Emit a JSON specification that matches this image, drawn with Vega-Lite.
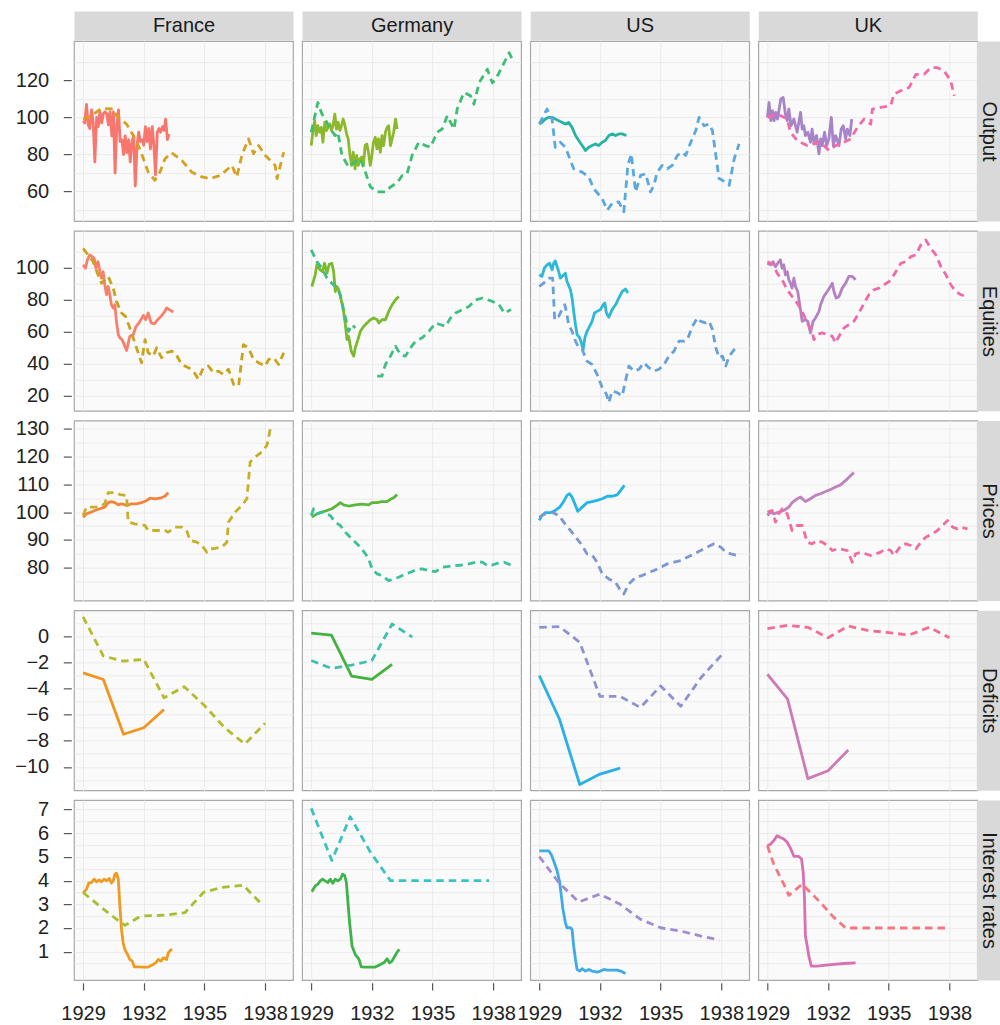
{
"$schema": "https://vega.github.io/schema/vega-lite/v6.json",
"padding": {"left": 0, "top": 14.1, "right": 2, "bottom": 0},
"config": {
  "font": "Liberation Sans",
  "view": {"fill": "#fafafa", "stroke": "#a8a8a8", "strokeWidth": 1.2},
  "axis": {"labelFontSize": 20, "labelColor": "#222222", "tickColor": "#555555", "tickWidth": 1.2, "gridColor": "#ebebeb", "gridWidth": 1, "labelFont": "Liberation Sans", "titleFont": "Liberation Sans"},
  "line": {"strokeWidth": 2.8, "strokeJoin": "round"}
},
"datasets": {
"France_Output_1": [{"year":1929.00,"value":98},{"year":1929.08,"value":97},{"year":1929.17,"value":107},{"year":1929.25,"value":96},{"year":1929.33,"value":94},{"year":1929.42,"value":104},{"year":1929.50,"value":97},{"year":1929.58,"value":76},{"year":1929.67,"value":100},{"year":1929.75,"value":95},{"year":1929.83,"value":103},{"year":1929.92,"value":97},{"year":1930.00,"value":102},{"year":1930.08,"value":103},{"year":1930.17,"value":102},{"year":1930.25,"value":96},{"year":1930.33,"value":103},{"year":1930.42,"value":90},{"year":1930.50,"value":103},{"year":1930.58,"value":70},{"year":1930.67,"value":96},{"year":1930.75,"value":104},{"year":1930.83,"value":87},{"year":1930.92,"value":88},{"year":1931.00,"value":80},{"year":1931.08,"value":90},{"year":1931.17,"value":81},{"year":1931.25,"value":88},{"year":1931.33,"value":76},{"year":1931.42,"value":87},{"year":1931.50,"value":90},{"year":1931.58,"value":63},{"year":1931.67,"value":85},{"year":1931.75,"value":92},{"year":1931.83,"value":87},{"year":1931.92,"value":88},{"year":1932.00,"value":85},{"year":1932.08,"value":95},{"year":1932.17,"value":87},{"year":1932.25,"value":94},{"year":1932.33,"value":83},{"year":1932.42,"value":95},{"year":1932.50,"value":85},{"year":1932.58,"value":69},{"year":1932.67,"value":92},{"year":1932.75,"value":94},{"year":1932.83,"value":92},{"year":1932.92,"value":95},{"year":1933.00,"value":93},{"year":1933.08,"value":99},{"year":1933.17,"value":88},{"year":1933.25,"value":91}],
"France_Output_2": [{"year":1929.00,"value":99.1},{"year":1929.41,"value":100.9},{"year":1929.91,"value":104.8},{"year":1930.49,"value":104.5},{"year":1930.65,"value":100.9},{"year":1931.15,"value":96.4},{"year":1931.48,"value":90.2},{"year":1931.73,"value":84.8},{"year":1931.98,"value":77.7},{"year":1932.22,"value":70.5},{"year":1932.55,"value":66.1},{"year":1932.80,"value":70.5},{"year":1933.05,"value":77.7},{"year":1933.38,"value":80.9},{"year":1933.88,"value":76.8},{"year":1934.37,"value":70.5},{"year":1934.87,"value":67.9},{"year":1935.28,"value":67.0},{"year":1935.78,"value":68.7},{"year":1936.36,"value":74.1},{"year":1936.60,"value":67.9},{"year":1936.85,"value":79.5},{"year":1937.18,"value":88.4},{"year":1937.43,"value":80.4},{"year":1937.68,"value":84.8},{"year":1938.01,"value":79.5},{"year":1938.26,"value":76.8},{"year":1938.50,"value":74.1},{"year":1938.59,"value":67.0},{"year":1938.92,"value":81.2}],
"Germany_Output_1": [{"year":1929.00,"value":84.8},{"year":1929.08,"value":92.0},{"year":1929.17,"value":98.2},{"year":1929.25,"value":90.2},{"year":1929.33,"value":95.5},{"year":1929.42,"value":92.0},{"year":1929.50,"value":94.6},{"year":1929.58,"value":86.6},{"year":1929.67,"value":97.3},{"year":1929.75,"value":92.9},{"year":1929.83,"value":94.6},{"year":1929.92,"value":96.4},{"year":1930.00,"value":92.9},{"year":1930.08,"value":95.5},{"year":1930.17,"value":101.8},{"year":1930.25,"value":93.7},{"year":1930.33,"value":97.3},{"year":1930.42,"value":92.9},{"year":1930.50,"value":95.5},{"year":1930.58,"value":99.1},{"year":1930.67,"value":95.5},{"year":1930.75,"value":91.1},{"year":1930.83,"value":88.4},{"year":1930.92,"value":79.5},{"year":1931.00,"value":74.1},{"year":1931.08,"value":81.2},{"year":1931.17,"value":72.3},{"year":1931.25,"value":79.5},{"year":1931.33,"value":74.1},{"year":1931.42,"value":77.7},{"year":1931.50,"value":78.6},{"year":1931.58,"value":74.1},{"year":1931.67,"value":84.8},{"year":1931.75,"value":85.7},{"year":1931.83,"value":81.2},{"year":1931.92,"value":74.1},{"year":1932.00,"value":79.5},{"year":1932.08,"value":86.6},{"year":1932.17,"value":89.3},{"year":1932.25,"value":83.0},{"year":1932.33,"value":88.4},{"year":1932.42,"value":81.2},{"year":1932.50,"value":90.2},{"year":1932.58,"value":84.8},{"year":1932.67,"value":92.0},{"year":1932.75,"value":94.6},{"year":1932.83,"value":95.5},{"year":1932.92,"value":84.8},{"year":1933.00,"value":88.4},{"year":1933.08,"value":92.0},{"year":1933.17,"value":99.1},{"year":1933.25,"value":93.7}],
"Germany_Output_2": [{"year":1929.00,"value":92.0},{"year":1929.33,"value":108.0},{"year":1929.53,"value":101.8},{"year":1929.69,"value":99.1},{"year":1929.94,"value":93.7},{"year":1930.19,"value":90.2},{"year":1930.32,"value":92.0},{"year":1930.52,"value":79.5},{"year":1930.85,"value":73.2},{"year":1931.15,"value":75.9},{"year":1931.43,"value":77.7},{"year":1931.68,"value":70.5},{"year":1931.93,"value":62.5},{"year":1932.26,"value":59.8},{"year":1932.67,"value":59.8},{"year":1932.92,"value":62.5},{"year":1933.25,"value":64.8},{"year":1933.50,"value":68.7},{"year":1933.74,"value":69.6},{"year":1933.99,"value":79.5},{"year":1934.32,"value":86.6},{"year":1934.65,"value":84.8},{"year":1934.90,"value":83.9},{"year":1935.23,"value":92.0},{"year":1935.48,"value":93.7},{"year":1935.73,"value":100.9},{"year":1936.06,"value":93.7},{"year":1936.22,"value":104.5},{"year":1936.55,"value":113.4},{"year":1936.88,"value":111.6},{"year":1937.05,"value":107.1},{"year":1937.30,"value":118.6},{"year":1937.71,"value":125.9},{"year":1937.96,"value":118.6},{"year":1938.12,"value":120.4},{"year":1938.45,"value":127.5},{"year":1938.79,"value":134.8},{"year":1938.95,"value":131.2}],
"US_Output_1": [{"year":1929.00,"value":96.4},{"year":1929.13,"value":97.3},{"year":1929.30,"value":99.1},{"year":1929.46,"value":100.0},{"year":1929.63,"value":100.0},{"year":1929.79,"value":99.1},{"year":1929.96,"value":98.2},{"year":1930.12,"value":97.3},{"year":1930.29,"value":96.4},{"year":1930.45,"value":97.3},{"year":1930.62,"value":94.6},{"year":1930.79,"value":90.2},{"year":1930.95,"value":87.5},{"year":1931.12,"value":84.8},{"year":1931.28,"value":82.1},{"year":1931.45,"value":83.9},{"year":1931.61,"value":84.8},{"year":1931.78,"value":85.7},{"year":1931.94,"value":84.8},{"year":1932.11,"value":86.6},{"year":1932.27,"value":87.5},{"year":1932.44,"value":90.2},{"year":1932.60,"value":91.1},{"year":1932.77,"value":90.2},{"year":1932.93,"value":91.1},{"year":1933.10,"value":91.1},{"year":1933.31,"value":90.2}],
"US_Output_2": [{"year":1929.00,"value":96.4},{"year":1929.38,"value":104.5},{"year":1929.63,"value":99.1},{"year":1929.79,"value":83.9},{"year":1930.04,"value":86.6},{"year":1930.29,"value":83.9},{"year":1930.70,"value":72.3},{"year":1931.12,"value":70.5},{"year":1931.45,"value":67.9},{"year":1931.69,"value":61.6},{"year":1932.11,"value":56.2},{"year":1932.36,"value":50.0},{"year":1932.60,"value":53.6},{"year":1932.93,"value":54.5},{"year":1933.18,"value":49.1},{"year":1933.38,"value":74.1},{"year":1933.55,"value":80.4},{"year":1933.76,"value":59.8},{"year":1934.01,"value":68.7},{"year":1934.26,"value":69.6},{"year":1934.50,"value":59.8},{"year":1934.67,"value":63.4},{"year":1934.83,"value":70.5},{"year":1935.08,"value":74.1},{"year":1935.33,"value":72.3},{"year":1935.58,"value":74.1},{"year":1935.83,"value":79.5},{"year":1936.07,"value":81.2},{"year":1936.24,"value":79.5},{"year":1936.49,"value":86.6},{"year":1936.74,"value":92.9},{"year":1936.90,"value":100.0},{"year":1937.15,"value":95.5},{"year":1937.40,"value":96.4},{"year":1937.56,"value":92.9},{"year":1937.73,"value":79.5},{"year":1937.89,"value":67.0},{"year":1938.06,"value":66.1},{"year":1938.39,"value":63.4},{"year":1938.64,"value":77.7},{"year":1938.88,"value":85.7}],
"UK_Output_1": [{"year":1929.00,"value":100.0},{"year":1929.08,"value":108.0},{"year":1929.17,"value":98.2},{"year":1929.25,"value":103.6},{"year":1929.33,"value":98.2},{"year":1929.41,"value":102.7},{"year":1929.50,"value":99.1},{"year":1929.66,"value":109.8},{"year":1929.78,"value":110.7},{"year":1929.89,"value":101.8},{"year":1929.98,"value":98.2},{"year":1930.06,"value":104.5},{"year":1930.17,"value":95.5},{"year":1930.31,"value":99.1},{"year":1930.47,"value":92.0},{"year":1930.64,"value":102.7},{"year":1930.72,"value":93.7},{"year":1930.80,"value":95.5},{"year":1930.88,"value":90.2},{"year":1931.00,"value":92.0},{"year":1931.13,"value":86.6},{"year":1931.21,"value":93.7},{"year":1931.30,"value":86.6},{"year":1931.43,"value":90.2},{"year":1931.55,"value":80.4},{"year":1931.63,"value":88.4},{"year":1931.71,"value":84.8},{"year":1931.83,"value":92.0},{"year":1931.93,"value":84.8},{"year":1932.04,"value":88.4},{"year":1932.16,"value":100.0},{"year":1932.26,"value":84.8},{"year":1932.37,"value":90.2},{"year":1932.54,"value":84.8},{"year":1932.65,"value":93.7},{"year":1932.75,"value":95.5},{"year":1932.87,"value":88.4},{"year":1932.95,"value":93.7},{"year":1933.08,"value":90.2},{"year":1933.17,"value":99.1}],
"UK_Output_2": [{"year":1929.00,"value":100.0},{"year":1929.48,"value":101.8},{"year":1929.98,"value":99.1},{"year":1930.14,"value":92.0},{"year":1930.47,"value":87.5},{"year":1930.97,"value":84.8},{"year":1931.30,"value":85.7},{"year":1931.63,"value":86.6},{"year":1932.04,"value":82.1},{"year":1932.37,"value":84.8},{"year":1932.62,"value":85.7},{"year":1933.12,"value":88.4},{"year":1933.45,"value":94.6},{"year":1933.78,"value":99.1},{"year":1934.11,"value":96.4},{"year":1934.19,"value":104.5},{"year":1934.60,"value":105.4},{"year":1935.10,"value":106.3},{"year":1935.26,"value":112.5},{"year":1935.76,"value":115.2},{"year":1936.01,"value":116.1},{"year":1936.34,"value":123.2},{"year":1936.75,"value":123.2},{"year":1937.08,"value":126.8},{"year":1937.41,"value":126.8},{"year":1937.74,"value":125.0},{"year":1938.07,"value":119.6},{"year":1938.24,"value":111.6}],
"France_Equities_1": [{"year":1929.00,"value":101.7},{"year":1929.12,"value":99.6},{"year":1929.21,"value":104.8},{"year":1929.33,"value":107.9},{"year":1929.45,"value":106.8},{"year":1929.55,"value":105.8},{"year":1929.63,"value":99.6},{"year":1929.74,"value":103.7},{"year":1929.83,"value":97.5},{"year":1929.91,"value":93.4},{"year":1929.99,"value":97.5},{"year":1930.07,"value":89.3},{"year":1930.16,"value":83.1},{"year":1930.24,"value":88.2},{"year":1930.32,"value":83.1},{"year":1930.40,"value":76.8},{"year":1930.49,"value":74.8},{"year":1930.57,"value":76.8},{"year":1930.65,"value":66.5},{"year":1930.74,"value":58.2},{"year":1930.82,"value":56.2},{"year":1930.93,"value":55.1},{"year":1931.15,"value":48.3},{"year":1931.31,"value":57.2},{"year":1931.48,"value":58.2},{"year":1931.60,"value":62.8},{"year":1931.81,"value":66.5},{"year":1931.98,"value":70.2},{"year":1932.09,"value":67.5},{"year":1932.22,"value":71.7},{"year":1932.36,"value":65.5},{"year":1932.52,"value":64.9},{"year":1932.69,"value":67.5},{"year":1932.85,"value":69.6},{"year":1933.02,"value":72.3},{"year":1933.13,"value":74.8},{"year":1933.30,"value":73.5},{"year":1933.46,"value":72.3}],
"France_Equities_2": [{"year":1929.00,"value":112.0},{"year":1929.25,"value":107.9},{"year":1929.50,"value":103.7},{"year":1929.74,"value":95.5},{"year":1929.91,"value":90.3},{"year":1930.24,"value":94.5},{"year":1930.49,"value":87.2},{"year":1930.65,"value":78.9},{"year":1930.90,"value":71.7},{"year":1931.10,"value":69.6},{"year":1931.31,"value":62.4},{"year":1931.48,"value":56.2},{"year":1931.64,"value":50.0},{"year":1931.89,"value":40.7},{"year":1932.06,"value":55.1},{"year":1932.22,"value":46.9},{"year":1932.47,"value":44.8},{"year":1932.64,"value":50.0},{"year":1932.88,"value":43.8},{"year":1933.13,"value":46.9},{"year":1933.38,"value":47.9},{"year":1933.55,"value":46.9},{"year":1933.88,"value":39.6},{"year":1934.21,"value":37.6},{"year":1934.45,"value":35.5},{"year":1934.70,"value":30.4},{"year":1934.95,"value":37.6},{"year":1935.20,"value":38.6},{"year":1935.45,"value":34.5},{"year":1935.69,"value":35.5},{"year":1935.94,"value":33.4},{"year":1936.19,"value":36.6},{"year":1936.44,"value":27.2},{"year":1936.69,"value":26.2},{"year":1936.93,"value":52.0},{"year":1937.18,"value":49.9},{"year":1937.43,"value":42.7},{"year":1937.68,"value":40.7},{"year":1938.01,"value":38.6},{"year":1938.17,"value":42.7},{"year":1938.42,"value":43.8},{"year":1938.67,"value":39.6},{"year":1938.92,"value":46.9}],
"Germany_Equities_1": [{"year":1929.03,"value":88.2},{"year":1929.20,"value":95.5},{"year":1929.28,"value":101.7},{"year":1929.45,"value":98.6},{"year":1929.56,"value":97.5},{"year":1929.66,"value":102.7},{"year":1929.78,"value":96.5},{"year":1929.89,"value":102.1},{"year":1930.02,"value":102.7},{"year":1930.11,"value":97.5},{"year":1930.19,"value":85.1},{"year":1930.27,"value":88.2},{"year":1930.36,"value":86.1},{"year":1930.44,"value":82.0},{"year":1930.52,"value":77.9},{"year":1930.60,"value":72.7},{"year":1930.69,"value":64.4},{"year":1930.77,"value":55.1},{"year":1930.85,"value":57.2},{"year":1930.98,"value":47.9},{"year":1931.10,"value":44.8},{"year":1931.18,"value":50.0},{"year":1931.31,"value":55.1},{"year":1931.43,"value":60.3},{"year":1931.60,"value":63.4},{"year":1931.76,"value":65.5},{"year":1931.93,"value":67.5},{"year":1932.09,"value":68.6},{"year":1932.26,"value":67.5},{"year":1932.34,"value":65.5},{"year":1932.50,"value":67.5},{"year":1932.67,"value":67.5},{"year":1932.83,"value":72.7},{"year":1933.00,"value":76.8},{"year":1933.17,"value":79.9},{"year":1933.33,"value":82.0}],
"Germany_Equities_2": [{"year":1929.00,"value":111.0,"seg":"a"},{"year":1929.28,"value":103.7,"seg":"a"},{"year":1929.53,"value":99.6,"seg":"a"},{"year":1929.78,"value":93.4,"seg":"a"},{"year":1930.02,"value":90.3,"seg":"a"},{"year":1930.27,"value":87.2,"seg":"a"},{"year":1930.44,"value":83.1,"seg":"a"},{"year":1930.60,"value":73.8,"seg":"a"},{"year":1930.85,"value":60.3,"seg":"a"},{"year":1931.02,"value":64.4,"seg":"a"},{"year":1931.18,"value":62.4,"seg":"a"},{"year":1932.26,"value":32.4,"seg":"b"},{"year":1932.50,"value":32.4,"seg":"b"},{"year":1932.67,"value":39.6,"seg":"b"},{"year":1932.92,"value":44.8,"seg":"b"},{"year":1933.17,"value":51.0,"seg":"b"},{"year":1933.41,"value":45.8,"seg":"b"},{"year":1933.66,"value":44.8,"seg":"b"},{"year":1933.91,"value":50.0,"seg":"b"},{"year":1934.16,"value":54.1,"seg":"b"},{"year":1934.49,"value":56.2,"seg":"b"},{"year":1934.82,"value":60.3,"seg":"b"},{"year":1935.15,"value":65.5,"seg":"b"},{"year":1935.40,"value":64.4,"seg":"b"},{"year":1935.64,"value":63.4,"seg":"b"},{"year":1935.89,"value":68.6,"seg":"b"},{"year":1936.14,"value":71.7,"seg":"b"},{"year":1936.47,"value":73.8,"seg":"b"},{"year":1936.80,"value":75.8,"seg":"b"},{"year":1937.13,"value":79.9,"seg":"b"},{"year":1937.46,"value":81.0,"seg":"b"},{"year":1937.71,"value":80.0,"seg":"b"},{"year":1937.96,"value":78.9,"seg":"b"},{"year":1938.29,"value":76.8,"seg":"b"},{"year":1938.55,"value":71.7,"seg":"b"},{"year":1938.88,"value":73.8,"seg":"b"}],
"US_Equities_1": [{"year":1929.00,"value":95.5},{"year":1929.13,"value":94.5},{"year":1929.25,"value":99.6},{"year":1929.38,"value":101.7},{"year":1929.51,"value":102.7},{"year":1929.63,"value":98.6},{"year":1929.71,"value":102.7},{"year":1929.79,"value":104.1},{"year":1929.88,"value":100.6},{"year":1929.96,"value":97.5},{"year":1930.04,"value":93.4},{"year":1930.21,"value":95.5},{"year":1930.29,"value":96.5},{"year":1930.37,"value":91.3},{"year":1930.54,"value":86.2},{"year":1930.62,"value":81.0},{"year":1930.70,"value":72.7},{"year":1930.79,"value":64.4},{"year":1930.87,"value":58.2},{"year":1931.00,"value":56.2},{"year":1931.08,"value":53.1},{"year":1931.17,"value":48.9},{"year":1931.25,"value":56.2},{"year":1931.36,"value":60.3},{"year":1931.53,"value":64.4},{"year":1931.61,"value":66.5},{"year":1931.73,"value":71.7},{"year":1931.86,"value":72.7},{"year":1932.02,"value":73.8},{"year":1932.16,"value":76.8},{"year":1932.24,"value":77.9},{"year":1932.32,"value":71.7},{"year":1932.44,"value":69.0},{"year":1932.60,"value":73.8},{"year":1932.77,"value":76.8},{"year":1932.93,"value":81.0},{"year":1933.10,"value":85.1},{"year":1933.26,"value":86.6},{"year":1933.38,"value":84.1}],
"US_Equities_2": [{"year":1929.00,"value":88.2},{"year":1929.21,"value":90.3},{"year":1929.46,"value":93.4},{"year":1929.66,"value":93.4},{"year":1929.76,"value":67.5},{"year":1929.96,"value":69.6},{"year":1930.12,"value":73.8},{"year":1930.26,"value":76.8},{"year":1930.34,"value":72.7},{"year":1930.45,"value":64.4},{"year":1930.62,"value":60.3},{"year":1930.79,"value":54.1},{"year":1930.95,"value":50.0},{"year":1931.12,"value":48.9},{"year":1931.36,"value":41.7},{"year":1931.61,"value":39.6},{"year":1931.86,"value":33.4},{"year":1932.11,"value":25.2},{"year":1932.32,"value":21.0},{"year":1932.44,"value":15.9},{"year":1932.60,"value":23.1},{"year":1932.85,"value":22.1},{"year":1933.10,"value":20.0},{"year":1933.26,"value":29.3},{"year":1933.43,"value":38.6},{"year":1933.68,"value":35.5},{"year":1933.93,"value":36.6},{"year":1934.17,"value":40.7},{"year":1934.42,"value":37.6},{"year":1934.67,"value":35.5},{"year":1934.92,"value":36.6},{"year":1935.17,"value":39.6},{"year":1935.41,"value":44.8},{"year":1935.66,"value":47.9},{"year":1935.91,"value":54.1},{"year":1936.16,"value":54.1},{"year":1936.32,"value":55.1},{"year":1936.57,"value":63.4},{"year":1936.82,"value":68.6},{"year":1936.98,"value":66.5},{"year":1937.23,"value":65.5},{"year":1937.40,"value":66.5},{"year":1937.56,"value":61.4},{"year":1937.73,"value":50.0},{"year":1937.89,"value":43.8},{"year":1938.06,"value":44.8},{"year":1938.22,"value":38.6},{"year":1938.39,"value":44.8},{"year":1938.64,"value":48.9},{"year":1938.77,"value":50.4}],
"UK_Equities_1": [{"year":1929.00,"value":102.7},{"year":1929.15,"value":101.7},{"year":1929.28,"value":103.7},{"year":1929.40,"value":100.6},{"year":1929.51,"value":102.7},{"year":1929.64,"value":104.8},{"year":1929.73,"value":99.6},{"year":1929.81,"value":101.7},{"year":1929.89,"value":95.5},{"year":1929.98,"value":97.5},{"year":1930.06,"value":92.4},{"year":1930.14,"value":90.3},{"year":1930.22,"value":87.2},{"year":1930.31,"value":93.4},{"year":1930.39,"value":88.2},{"year":1930.50,"value":85.1},{"year":1930.72,"value":66.5},{"year":1930.88,"value":67.5},{"year":1931.00,"value":66.5},{"year":1931.13,"value":59.3},{"year":1931.26,"value":66.5},{"year":1931.38,"value":68.6},{"year":1931.55,"value":72.7},{"year":1931.63,"value":76.8},{"year":1931.79,"value":82.0},{"year":1931.96,"value":85.1},{"year":1932.12,"value":88.2},{"year":1932.21,"value":90.3},{"year":1932.29,"value":85.1},{"year":1932.40,"value":81.0},{"year":1932.54,"value":82.0},{"year":1932.70,"value":87.2},{"year":1932.87,"value":90.3},{"year":1933.03,"value":94.5},{"year":1933.20,"value":94.5},{"year":1933.36,"value":92.4}],
"UK_Equities_2": [{"year":1929.00,"value":103.7},{"year":1929.31,"value":101.7},{"year":1929.48,"value":96.5},{"year":1929.73,"value":92.4},{"year":1929.98,"value":86.2},{"year":1930.22,"value":82.0},{"year":1930.47,"value":77.9},{"year":1930.72,"value":72.7},{"year":1930.97,"value":65.5},{"year":1931.21,"value":60.3},{"year":1931.30,"value":55.1},{"year":1931.46,"value":58.2},{"year":1931.71,"value":59.3},{"year":1931.96,"value":58.2},{"year":1932.21,"value":57.2},{"year":1932.37,"value":53.1},{"year":1932.54,"value":57.2},{"year":1932.79,"value":62.4},{"year":1933.03,"value":64.4},{"year":1933.28,"value":66.5},{"year":1933.53,"value":71.7},{"year":1933.78,"value":77.9},{"year":1934.02,"value":83.1},{"year":1934.27,"value":86.2},{"year":1934.52,"value":87.2},{"year":1934.77,"value":89.3},{"year":1935.02,"value":91.3},{"year":1935.26,"value":95.5},{"year":1935.60,"value":102.7},{"year":1935.84,"value":103.7},{"year":1936.09,"value":106.8},{"year":1936.34,"value":107.9},{"year":1936.59,"value":114.1},{"year":1936.83,"value":117.2},{"year":1937.08,"value":112.0},{"year":1937.33,"value":107.9},{"year":1937.58,"value":100.6},{"year":1937.83,"value":95.5},{"year":1938.07,"value":89.3},{"year":1938.32,"value":85.1},{"year":1938.57,"value":83.1},{"year":1938.82,"value":82.0}],
"France_Prices_1": [{"year":1929.00,"value":98.2},{"year":1929.17,"value":99.4},{"year":1929.33,"value":99.8},{"year":1929.58,"value":100.6},{"year":1929.83,"value":101.2},{"year":1930.07,"value":101.8},{"year":1930.24,"value":103.4},{"year":1930.40,"value":103.8},{"year":1930.57,"value":103.4},{"year":1930.74,"value":102.6},{"year":1930.90,"value":103.0},{"year":1931.15,"value":102.4},{"year":1931.40,"value":103.0},{"year":1931.64,"value":103.0},{"year":1931.89,"value":103.4},{"year":1932.14,"value":104.2},{"year":1932.31,"value":105.0},{"year":1932.55,"value":104.8},{"year":1932.80,"value":105.0},{"year":1933.05,"value":105.7},{"year":1933.21,"value":107.0}],
"France_Prices_2": [{"year":1929.00,"value":98.8},{"year":1929.17,"value":101.8},{"year":1929.41,"value":101.8},{"year":1929.74,"value":101.8},{"year":1930.07,"value":103.0},{"year":1930.24,"value":107.0},{"year":1930.65,"value":107.0},{"year":1930.82,"value":106.3},{"year":1931.15,"value":106.0},{"year":1931.23,"value":96.4},{"year":1931.56,"value":95.8},{"year":1931.81,"value":95.5},{"year":1932.06,"value":95.2},{"year":1932.22,"value":93.4},{"year":1932.64,"value":93.4},{"year":1933.05,"value":93.4},{"year":1933.21,"value":92.8},{"year":1933.55,"value":94.6},{"year":1933.88,"value":94.6},{"year":1934.12,"value":93.4},{"year":1934.29,"value":89.8},{"year":1934.62,"value":89.2},{"year":1934.87,"value":88.0},{"year":1935.12,"value":85.6},{"year":1935.28,"value":86.8},{"year":1935.53,"value":87.0},{"year":1935.86,"value":87.4},{"year":1936.11,"value":89.2},{"year":1936.19,"value":96.4},{"year":1936.52,"value":100.0},{"year":1936.85,"value":102.4},{"year":1937.10,"value":104.8},{"year":1937.26,"value":118.0},{"year":1937.51,"value":119.8},{"year":1937.84,"value":121.6},{"year":1938.09,"value":124.0},{"year":1938.26,"value":130.0}],
"Germany_Prices_1": [{"year":1929.03,"value":98.2},{"year":1929.28,"value":99.4},{"year":1929.53,"value":100.0},{"year":1929.78,"value":100.6},{"year":1930.02,"value":101.2},{"year":1930.27,"value":102.4},{"year":1930.44,"value":103.4},{"year":1930.60,"value":102.6},{"year":1930.85,"value":102.2},{"year":1931.18,"value":102.6},{"year":1931.51,"value":102.9},{"year":1931.84,"value":102.6},{"year":1932.01,"value":103.4},{"year":1932.26,"value":103.4},{"year":1932.50,"value":103.8},{"year":1932.75,"value":103.8},{"year":1932.92,"value":104.6},{"year":1933.08,"value":105.2},{"year":1933.25,"value":106.3}],
"Germany_Prices_2": [{"year":1929.00,"value":98.8},{"year":1929.12,"value":101.2},{"year":1929.28,"value":99.4},{"year":1929.53,"value":100.0},{"year":1929.94,"value":98.8},{"year":1930.19,"value":96.4},{"year":1930.44,"value":95.2},{"year":1930.69,"value":92.8},{"year":1930.93,"value":91.0},{"year":1931.18,"value":89.2},{"year":1931.43,"value":87.4},{"year":1931.68,"value":85.0},{"year":1931.84,"value":83.2},{"year":1932.01,"value":79.6},{"year":1932.26,"value":77.8},{"year":1932.50,"value":77.2},{"year":1932.83,"value":75.4},{"year":1933.08,"value":76.0},{"year":1933.33,"value":76.6},{"year":1933.66,"value":77.8},{"year":1933.91,"value":78.4},{"year":1934.24,"value":79.4},{"year":1934.49,"value":79.6},{"year":1934.82,"value":79.0},{"year":1935.15,"value":78.6},{"year":1935.48,"value":80.2},{"year":1935.81,"value":80.5},{"year":1936.14,"value":80.8},{"year":1936.47,"value":81.0},{"year":1936.80,"value":81.4},{"year":1937.13,"value":82.0},{"year":1937.46,"value":82.0},{"year":1937.71,"value":80.8},{"year":1937.96,"value":81.0},{"year":1938.29,"value":81.8},{"year":1938.54,"value":82.0},{"year":1938.87,"value":81.0}],
"US_Prices_1": [{"year":1929.00,"value":97.0},{"year":1929.13,"value":98.8},{"year":1929.30,"value":99.8},{"year":1929.55,"value":99.8},{"year":1929.79,"value":100.6},{"year":1930.01,"value":101.8},{"year":1930.17,"value":103.4},{"year":1930.37,"value":106.0},{"year":1930.50,"value":106.6},{"year":1930.62,"value":105.4},{"year":1930.79,"value":102.4},{"year":1930.90,"value":100.3},{"year":1931.12,"value":101.8},{"year":1931.36,"value":103.4},{"year":1931.61,"value":103.8},{"year":1931.86,"value":104.2},{"year":1932.11,"value":104.8},{"year":1932.36,"value":105.7},{"year":1932.60,"value":105.7},{"year":1932.85,"value":106.2},{"year":1933.02,"value":107.8},{"year":1933.21,"value":109.6}],
"US_Prices_2": [{"year":1929.00,"value":98.2},{"year":1929.30,"value":99.4},{"year":1929.63,"value":100.0},{"year":1929.96,"value":98.8},{"year":1930.21,"value":96.4},{"year":1930.54,"value":93.4},{"year":1930.87,"value":90.4},{"year":1931.12,"value":88.0},{"year":1931.36,"value":85.0},{"year":1931.61,"value":84.6},{"year":1931.86,"value":82.0},{"year":1932.11,"value":77.8},{"year":1932.44,"value":76.0},{"year":1932.77,"value":74.8},{"year":1933.02,"value":71.8},{"year":1933.18,"value":70.6},{"year":1933.43,"value":74.2},{"year":1933.76,"value":76.6},{"year":1934.09,"value":77.2},{"year":1934.42,"value":78.4},{"year":1934.67,"value":79.0},{"year":1935.00,"value":80.2},{"year":1935.33,"value":81.4},{"year":1935.66,"value":82.0},{"year":1935.99,"value":82.6},{"year":1936.32,"value":83.8},{"year":1936.65,"value":85.0},{"year":1936.98,"value":86.2},{"year":1937.31,"value":87.4},{"year":1937.64,"value":88.6},{"year":1937.98,"value":87.4},{"year":1938.22,"value":85.6},{"year":1938.47,"value":85.0},{"year":1938.80,"value":84.4}],
"UK_Prices_1": [{"year":1929.00,"value":98.8},{"year":1929.15,"value":100.0},{"year":1929.31,"value":99.4},{"year":1929.56,"value":100.0},{"year":1929.81,"value":100.6},{"year":1930.06,"value":101.8},{"year":1930.22,"value":103.4},{"year":1930.47,"value":104.8},{"year":1930.64,"value":105.4},{"year":1930.88,"value":103.8},{"year":1931.13,"value":104.8},{"year":1931.38,"value":106.0},{"year":1931.63,"value":106.6},{"year":1931.88,"value":107.4},{"year":1932.12,"value":108.1},{"year":1932.37,"value":109.0},{"year":1932.62,"value":109.8},{"year":1932.87,"value":111.4},{"year":1933.12,"value":113.2},{"year":1933.28,"value":114.2}],
"UK_Prices_2": [{"year":1929.00,"value":100.0},{"year":1929.23,"value":100.6},{"year":1929.40,"value":96.4},{"year":1929.56,"value":99.4},{"year":1929.73,"value":101.2},{"year":1929.98,"value":99.4},{"year":1930.22,"value":93.4},{"year":1930.47,"value":95.2},{"year":1930.72,"value":95.2},{"year":1930.97,"value":89.2},{"year":1931.21,"value":88.6},{"year":1931.46,"value":89.8},{"year":1931.71,"value":89.2},{"year":1931.96,"value":88.0},{"year":1932.21,"value":86.2},{"year":1932.45,"value":86.8},{"year":1932.70,"value":86.6},{"year":1932.95,"value":86.2},{"year":1933.20,"value":82.0},{"year":1933.36,"value":85.0},{"year":1933.61,"value":85.6},{"year":1933.86,"value":85.0},{"year":1934.11,"value":84.4},{"year":1934.36,"value":85.0},{"year":1934.60,"value":85.6},{"year":1934.85,"value":86.8},{"year":1935.10,"value":86.2},{"year":1935.26,"value":84.4},{"year":1935.60,"value":88.0},{"year":1935.84,"value":88.6},{"year":1936.09,"value":88.0},{"year":1936.34,"value":86.8},{"year":1936.59,"value":89.2},{"year":1936.83,"value":91.0},{"year":1937.17,"value":92.2},{"year":1937.41,"value":93.4},{"year":1937.66,"value":95.2},{"year":1937.91,"value":97.0},{"year":1938.16,"value":94.6},{"year":1938.40,"value":94.0},{"year":1938.57,"value":94.6},{"year":1938.90,"value":94.0}],
"France_Deficits_1": [{"year":1929,"value":-2.8},{"year":1930,"value":-3.3},{"year":1931,"value":-7.5},{"year":1932,"value":-7.0},{"year":1933,"value":-5.6}],
"France_Deficits_2": [{"year":1929,"value":1.5},{"year":1930,"value":-1.5},{"year":1931,"value":-1.9},{"year":1932,"value":-1.75},{"year":1933,"value":-4.7},{"year":1934,"value":-3.85},{"year":1935,"value":-5.3},{"year":1936,"value":-7.0},{"year":1937,"value":-8.25},{"year":1938,"value":-6.65}],
"Germany_Deficits_1": [{"year":1929,"value":0.25},{"year":1930,"value":0.1},{"year":1931,"value":-3.05},{"year":1932,"value":-3.3},{"year":1933,"value":-2.15}],
"Germany_Deficits_2": [{"year":1929,"value":-1.85},{"year":1930,"value":-2.45},{"year":1931,"value":-2.2},{"year":1932,"value":-1.85},{"year":1933,"value":0.95},{"year":1934,"value":-0.05}],
"US_Deficits_1": [{"year":1929,"value":-3.0},{"year":1930,"value":-6.35},{"year":1931,"value":-11.35},{"year":1932,"value":-10.55},{"year":1933,"value":-10.1}],
"US_Deficits_2": [{"year":1929,"value":0.7},{"year":1930,"value":0.75},{"year":1931,"value":-0.45},{"year":1932,"value":-4.6},{"year":1933,"value":-4.6},{"year":1934,"value":-5.45},{"year":1935,"value":-3.8},{"year":1936,"value":-5.35},{"year":1937,"value":-3.15},{"year":1938,"value":-1.45}],
"UK_Deficits_1": [{"year":1929,"value":-2.9},{"year":1930,"value":-4.8},{"year":1931,"value":-10.9},{"year":1932,"value":-10.3},{"year":1933,"value":-8.7}],
"UK_Deficits_2": [{"year":1929,"value":0.6},{"year":1930,"value":0.85},{"year":1931,"value":0.7},{"year":1932,"value":-0.1},{"year":1933,"value":0.8},{"year":1934,"value":0.45},{"year":1935,"value":0.3},{"year":1936,"value":0.1},{"year":1937,"value":0.7},{"year":1938,"value":-0.1}],
"France_Interest_1": [{"year":1929.00,"value":3.47},{"year":1929.17,"value":3.64},{"year":1929.28,"value":3.90},{"year":1929.41,"value":3.92},{"year":1929.55,"value":4.06},{"year":1929.66,"value":3.95},{"year":1929.79,"value":4.03},{"year":1929.91,"value":3.95},{"year":1930.04,"value":4.06},{"year":1930.16,"value":3.99},{"year":1930.29,"value":4.09},{"year":1930.40,"value":3.90},{"year":1930.49,"value":3.99},{"year":1930.57,"value":4.27},{"year":1930.65,"value":4.31},{"year":1930.74,"value":4.06},{"year":1930.82,"value":2.93},{"year":1930.90,"value":1.94},{"year":1930.98,"value":1.37},{"year":1931.07,"value":1.09},{"year":1931.20,"value":0.88},{"year":1931.31,"value":0.67},{"year":1931.43,"value":0.60},{"year":1931.53,"value":0.36},{"year":1931.73,"value":0.36},{"year":1931.98,"value":0.35},{"year":1932.22,"value":0.35},{"year":1932.47,"value":0.46},{"year":1932.59,"value":0.53},{"year":1932.72,"value":0.67},{"year":1932.85,"value":0.60},{"year":1932.97,"value":0.74},{"year":1933.13,"value":0.67},{"year":1933.21,"value":0.95},{"year":1933.33,"value":1.07},{"year":1933.41,"value":1.10}],
"France_Interest_2": [{"year":1929.00,"value":3.5},{"year":1929.91,"value":2.86},{"year":1930.65,"value":2.37},{"year":1931.07,"value":2.11},{"year":1931.73,"value":2.44},{"year":1932.06,"value":2.51},{"year":1933.05,"value":2.54},{"year":1934.04,"value":2.65},{"year":1934.95,"value":3.5},{"year":1935.86,"value":3.71},{"year":1936.93,"value":3.81},{"year":1937.26,"value":3.5},{"year":1937.84,"value":3.0}],
"Germany_Interest_1": [{"year":1929.03,"value":3.53},{"year":1929.20,"value":3.78},{"year":1929.33,"value":3.85},{"year":1929.45,"value":3.99},{"year":1929.56,"value":4.06},{"year":1929.69,"value":3.99},{"year":1929.83,"value":3.92},{"year":1929.94,"value":4.06},{"year":1930.07,"value":3.89},{"year":1930.19,"value":4.06},{"year":1930.32,"value":3.99},{"year":1930.44,"value":4.06},{"year":1930.55,"value":4.27},{"year":1930.65,"value":4.23},{"year":1930.74,"value":3.92},{"year":1930.82,"value":3.07},{"year":1930.90,"value":2.22},{"year":1931.02,"value":1.24},{"year":1931.18,"value":0.88},{"year":1931.35,"value":0.70},{"year":1931.48,"value":0.36},{"year":1931.68,"value":0.35},{"year":1931.93,"value":0.35},{"year":1932.17,"value":0.35},{"year":1932.42,"value":0.46},{"year":1932.59,"value":0.53},{"year":1932.75,"value":0.70},{"year":1932.87,"value":0.53},{"year":1933.00,"value":0.60},{"year":1933.13,"value":0.81},{"year":1933.25,"value":0.98},{"year":1933.36,"value":1.10}],
"Germany_Interest_2": [{"year":1929.00,"value":7.05},{"year":1930.02,"value":4.85},{"year":1930.93,"value":6.7},{"year":1931.93,"value":5.2},{"year":1932.92,"value":4.0},{"year":1937.8,"value":4.0}],
"US_Interest_1": [{"year":1929.00,"value":5.26},{"year":1929.46,"value":5.26},{"year":1929.58,"value":5.12},{"year":1929.71,"value":4.84},{"year":1929.88,"value":4.42},{"year":1930.01,"value":3.92},{"year":1930.09,"value":3.36},{"year":1930.17,"value":2.79},{"year":1930.29,"value":2.23},{"year":1930.37,"value":2.01},{"year":1930.54,"value":2.01},{"year":1930.62,"value":1.94},{"year":1930.70,"value":1.24},{"year":1930.79,"value":0.67},{"year":1930.87,"value":0.25},{"year":1931.00,"value":0.18},{"year":1931.12,"value":0.28},{"year":1931.28,"value":0.18},{"year":1931.45,"value":0.25},{"year":1931.61,"value":0.18},{"year":1931.86,"value":0.14},{"year":1932.02,"value":0.18},{"year":1932.19,"value":0.25},{"year":1932.36,"value":0.22},{"year":1932.60,"value":0.22},{"year":1932.85,"value":0.22},{"year":1933.02,"value":0.18},{"year":1933.26,"value":0.08}],
"US_Interest_2": [{"year":1929.00,"value":5.02},{"year":1929.96,"value":3.92},{"year":1930.95,"value":3.1},{"year":1932.0,"value":3.43},{"year":1933.0,"value":3.0},{"year":1934.0,"value":2.37},{"year":1935.0,"value":2.01},{"year":1936.0,"value":1.87},{"year":1937.0,"value":1.66},{"year":1937.9,"value":1.49}],
"UK_Interest_1": [{"year":1929.00,"value":5.47},{"year":1929.15,"value":5.54},{"year":1929.31,"value":5.68},{"year":1929.48,"value":5.9},{"year":1929.61,"value":5.83},{"year":1929.81,"value":5.76},{"year":1929.98,"value":5.62},{"year":1930.14,"value":5.37},{"year":1930.31,"value":5.03},{"year":1930.55,"value":5.02},{"year":1930.69,"value":4.91},{"year":1930.77,"value":4.35},{"year":1930.83,"value":3.36},{"year":1930.88,"value":1.66},{"year":1930.97,"value":1.24},{"year":1931.05,"value":0.81},{"year":1931.17,"value":0.39},{"year":1931.46,"value":0.39},{"year":1931.79,"value":0.42},{"year":1932.29,"value":0.46},{"year":1932.79,"value":0.50},{"year":1933.36,"value":0.53}],
"UK_Interest_2": [{"year":1929.00,"value":5.47},{"year":1929.31,"value":4.70},{"year":1929.81,"value":3.85},{"year":1930.06,"value":3.38},{"year":1930.72,"value":3.85},{"year":1931.63,"value":3.07},{"year":1932.21,"value":2.51},{"year":1932.87,"value":2.0},{"year":1937.99,"value":2.0}]
},
"columns": 4,
"bounds": "flush",
"spacing": {"row": 9.75, "column": 9.1},
"concat": [
 {"width": 219, "height": 180, "resolve": {"axis": {"x": "independent"}},
  "encoding": {"x": {"field": "year", "type": "quantitative", "scale": {"domain": [1928.55, 1939.38], "nice": false, "zero": false}, "axis": {"values": [1929, 1932, 1935, 1938], "labels": false, "ticks": false, "domain": false, "title": null}},
   "y": {"field": "value", "type": "quantitative", "scale": {"domain": [44.1, 141.1], "nice": false, "zero": false}, "axis": {"values": [50,60,70,80,90,100,110,120,130], "labelExpr": "datum.value % 20 === 0 ? datum.label : ''", "tickOpacity": {"condition": {"test": "datum.value % 20 === 0", "value": 1}, "value": 0}, "domain": false, "title": null, "tickSize": 8, "offset": 2.7, "labelPadding": 14.6, "minExtent": 70, "maxExtent": 70, "labelOverlap": false}}},
  "layer": [
   {"data": {"name": "France_Output_1"}, "mark": {"type": "line", "color": "#F8766D"}, "encoding": {}},
   {"data": {"name": "France_Output_2"}, "mark": {"type": "line", "color": "#D6A11F", "strokeDash": [7.5, 5]},
    "encoding": {"x": {"field": "year", "type": "quantitative", "scale": {"domain": [1928.55, 1939.38], "nice": false, "zero": false}, "axis": {"orient": "top", "domain": true, "domainColor": "#d9d9d9", "domainWidth": 29, "offset": 15.6, "ticks": false, "labels": false, "grid": false, "title": "France", "titleFontSize": 20, "titleFontWeight": "normal", "titleColor": "#1a1a1a", "titlePadding": 0, "titleBaseline": "middle", "minExtent": 0, "maxExtent": 0}}}}]},
 {"width": 219, "height": 180, "resolve": {"axis": {"x": "independent"}},
  "encoding": {"x": {"field": "year", "type": "quantitative", "scale": {"domain": [1928.55, 1939.38], "nice": false, "zero": false}, "axis": {"values": [1929, 1932, 1935, 1938], "labels": false, "ticks": false, "domain": false, "title": null}},
   "y": {"field": "value", "type": "quantitative", "scale": {"domain": [44.1, 141.1], "nice": false, "zero": false}, "axis": {"values": [50,60,70,80,90,100,110,120,130], "labels": false, "ticks": false, "domain": false, "title": null}}},
  "layer": [
   {"data": {"name": "Germany_Output_1"}, "mark": {"type": "line", "color": "#8CB82B"}, "encoding": {}},
   {"data": {"name": "Germany_Output_2"}, "mark": {"type": "line", "color": "#3DBE72", "strokeDash": [7.5, 5]},
    "encoding": {"x": {"field": "year", "type": "quantitative", "scale": {"domain": [1928.55, 1939.38], "nice": false, "zero": false}, "axis": {"orient": "top", "domain": true, "domainColor": "#d9d9d9", "domainWidth": 29, "offset": 15.6, "ticks": false, "labels": false, "grid": false, "title": "Germany", "titleFontSize": 20, "titleFontWeight": "normal", "titleColor": "#1a1a1a", "titlePadding": 0, "titleBaseline": "middle", "minExtent": 0, "maxExtent": 0}}}}]},
 {"width": 219, "height": 180, "resolve": {"axis": {"x": "independent"}},
  "encoding": {"x": {"field": "year", "type": "quantitative", "scale": {"domain": [1928.55, 1939.38], "nice": false, "zero": false}, "axis": {"values": [1929, 1932, 1935, 1938], "labels": false, "ticks": false, "domain": false, "title": null}},
   "y": {"field": "value", "type": "quantitative", "scale": {"domain": [44.1, 141.1], "nice": false, "zero": false}, "axis": {"values": [50,60,70,80,90,100,110,120,130], "labels": false, "ticks": false, "domain": false, "title": null}}},
  "layer": [
   {"data": {"name": "US_Output_1"}, "mark": {"type": "line", "color": "#26B3A5"}, "encoding": {}},
   {"data": {"name": "US_Output_2"}, "mark": {"type": "line", "color": "#5BA8E0", "strokeDash": [7.5, 5]},
    "encoding": {"x": {"field": "year", "type": "quantitative", "scale": {"domain": [1928.55, 1939.38], "nice": false, "zero": false}, "axis": {"orient": "top", "domain": true, "domainColor": "#d9d9d9", "domainWidth": 29, "offset": 15.6, "ticks": false, "labels": false, "grid": false, "title": "US", "titleFontSize": 20, "titleFontWeight": "normal", "titleColor": "#1a1a1a", "titlePadding": 0, "titleBaseline": "middle", "minExtent": 0, "maxExtent": 0}}}}]},
 {"width": 219, "height": 180, "resolve": {"axis": {"x": "independent", "y": "independent"}},
  "encoding": {"x": {"field": "year", "type": "quantitative", "scale": {"domain": [1928.55, 1939.38], "nice": false, "zero": false}, "axis": {"values": [1929, 1932, 1935, 1938], "labels": false, "ticks": false, "domain": false, "title": null}},
   "y": {"field": "value", "type": "quantitative", "scale": {"domain": [44.1, 141.1], "nice": false, "zero": false}, "axis": {"values": [50,60,70,80,90,100,110,120,130], "labels": false, "ticks": false, "domain": false, "title": null}}},
  "layer": [
   {"data": {"name": "UK_Output_1"}, "mark": {"type": "line", "color": "#A783C8"}, "encoding": {}},
   {"data": {"name": "UK_Output_2"}, "mark": {"type": "line", "color": "#F06BA8", "strokeDash": [7.5, 5]},
    "encoding": {"x": {"field": "year", "type": "quantitative", "scale": {"domain": [1928.55, 1939.38], "nice": false, "zero": false}, "axis": {"orient": "top", "domain": true, "domainColor": "#d9d9d9", "domainWidth": 29, "offset": 15.6, "ticks": false, "labels": false, "grid": false, "title": "UK", "titleFontSize": 20, "titleFontWeight": "normal", "titleColor": "#1a1a1a", "titlePadding": 0, "titleBaseline": "middle", "minExtent": 0, "maxExtent": 0}},
     "y": {"field": "value", "type": "quantitative", "scale": {"domain": [44.1, 141.1], "nice": false, "zero": false}, "axis": {"orient": "right", "domain": true, "domainColor": "#d9d9d9", "domainWidth": 24, "offset": 11.1, "ticks": false, "labels": false, "grid": false, "title": "Output", "titleAngle": 90, "titleFontSize": 20, "titleFontWeight": "normal", "titleColor": "#1a1a1a", "titlePadding": 0, "titleBaseline": "middle", "minExtent": 0, "maxExtent": 0}}}}]},

 {"width": 219, "height": 180,
  "encoding": {"x": {"field": "year", "type": "quantitative", "scale": {"domain": [1928.55, 1939.38], "nice": false, "zero": false}, "axis": {"values": [1929, 1932, 1935, 1938], "labels": false, "ticks": false, "domain": false, "title": null}},
   "y": {"field": "value", "type": "quantitative", "scale": {"domain": [10.7, 122.9], "nice": false, "zero": false}, "axis": {"values": [20,30,40,50,60,70,80,90,100,110], "labelExpr": "datum.value % 20 === 0 ? datum.label : ''", "tickOpacity": {"condition": {"test": "datum.value % 20 === 0", "value": 1}, "value": 0}, "domain": false, "title": null, "tickSize": 8, "offset": 2.7, "labelPadding": 14.6, "minExtent": 70, "maxExtent": 70, "labelOverlap": false}}},
  "layer": [
   {"data": {"name": "France_Equities_1"}, "mark": {"type": "line", "color": "#F8806A"}, "encoding": {}},
   {"data": {"name": "France_Equities_2"}, "mark": {"type": "line", "color": "#C9A31C", "strokeDash": [7.5, 5]}, "encoding": {}}]},
 {"width": 219, "height": 180,
  "encoding": {"x": {"field": "year", "type": "quantitative", "scale": {"domain": [1928.55, 1939.38], "nice": false, "zero": false}, "axis": {"values": [1929, 1932, 1935, 1938], "labels": false, "ticks": false, "domain": false, "title": null}},
   "y": {"field": "value", "type": "quantitative", "scale": {"domain": [10.7, 122.9], "nice": false, "zero": false}, "axis": {"values": [20,30,40,50,60,70,80,90,100,110], "labels": false, "ticks": false, "domain": false, "title": null}}},
  "layer": [
   {"data": {"name": "Germany_Equities_1"}, "mark": {"type": "line", "color": "#7BB92E"}, "encoding": {}},
   {"data": {"name": "Germany_Equities_2"}, "mark": {"type": "line", "color": "#3DBF86", "strokeDash": [7.5, 5]}, "encoding": {"detail": {"field": "seg"}}}]},
 {"width": 219, "height": 180,
  "encoding": {"x": {"field": "year", "type": "quantitative", "scale": {"domain": [1928.55, 1939.38], "nice": false, "zero": false}, "axis": {"values": [1929, 1932, 1935, 1938], "labels": false, "ticks": false, "domain": false, "title": null}},
   "y": {"field": "value", "type": "quantitative", "scale": {"domain": [10.7, 122.9], "nice": false, "zero": false}, "axis": {"values": [20,30,40,50,60,70,80,90,100,110], "labels": false, "ticks": false, "domain": false, "title": null}}},
  "layer": [
   {"data": {"name": "US_Equities_1"}, "mark": {"type": "line", "color": "#2DB8D6"}, "encoding": {}},
   {"data": {"name": "US_Equities_2"}, "mark": {"type": "line", "color": "#67A1DC", "strokeDash": [7.5, 5]}, "encoding": {}}]},
 {"width": 219, "height": 180, "resolve": {"axis": {"y": "independent"}},
  "encoding": {"x": {"field": "year", "type": "quantitative", "scale": {"domain": [1928.55, 1939.38], "nice": false, "zero": false}, "axis": {"values": [1929, 1932, 1935, 1938], "labels": false, "ticks": false, "domain": false, "title": null}},
   "y": {"field": "value", "type": "quantitative", "scale": {"domain": [10.7, 122.9], "nice": false, "zero": false}, "axis": {"values": [20,30,40,50,60,70,80,90,100,110], "labels": false, "ticks": false, "domain": false, "title": null}}},
  "layer": [
   {"data": {"name": "UK_Equities_1"}, "mark": {"type": "line", "color": "#B282C2"}, "encoding": {}},
   {"data": {"name": "UK_Equities_2"}, "mark": {"type": "line", "color": "#F06AAA", "strokeDash": [7.5, 5]},
    "encoding": {"y": {"field": "value", "type": "quantitative", "scale": {"domain": [10.7, 122.9], "nice": false, "zero": false}, "axis": {"orient": "right", "domain": true, "domainColor": "#d9d9d9", "domainWidth": 24, "offset": 11.1, "ticks": false, "labels": false, "grid": false, "title": "Equities", "titleAngle": 90, "titleFontSize": 20, "titleFontWeight": "normal", "titleColor": "#1a1a1a", "titlePadding": 0, "titleBaseline": "middle", "minExtent": 0, "maxExtent": 0}}}}]},

 {"width": 219, "height": 180,
  "encoding": {"x": {"field": "year", "type": "quantitative", "scale": {"domain": [1928.55, 1939.38], "nice": false, "zero": false}, "axis": {"values": [1929, 1932, 1935, 1938], "labels": false, "ticks": false, "domain": false, "title": null}},
   "y": {"field": "value", "type": "quantitative", "scale": {"domain": [68.2, 132.9], "nice": false, "zero": false}, "axis": {"values": [75,80,85,90,95,100,105,110,115,120,125,130], "labelExpr": "datum.value % 10 === 0 ? datum.label : ''", "tickOpacity": {"condition": {"test": "datum.value % 10 === 0", "value": 1}, "value": 0}, "domain": false, "title": null, "tickSize": 8, "offset": 2.7, "labelPadding": 14.6, "minExtent": 70, "maxExtent": 70, "labelOverlap": false}}},
  "layer": [
   {"data": {"name": "France_Prices_1"}, "mark": {"type": "line", "color": "#F5823A"}, "encoding": {}},
   {"data": {"name": "France_Prices_2"}, "mark": {"type": "line", "color": "#C6B02A", "strokeDash": [7.5, 5]}, "encoding": {}}]},
 {"width": 219, "height": 180,
  "encoding": {"x": {"field": "year", "type": "quantitative", "scale": {"domain": [1928.55, 1939.38], "nice": false, "zero": false}, "axis": {"values": [1929, 1932, 1935, 1938], "labels": false, "ticks": false, "domain": false, "title": null}},
   "y": {"field": "value", "type": "quantitative", "scale": {"domain": [68.2, 132.9], "nice": false, "zero": false}, "axis": {"values": [75,80,85,90,95,100,105,110,115,120,125,130], "labels": false, "ticks": false, "domain": false, "title": null}}},
  "layer": [
   {"data": {"name": "Germany_Prices_1"}, "mark": {"type": "line", "color": "#5DB53A"}, "encoding": {}},
   {"data": {"name": "Germany_Prices_2"}, "mark": {"type": "line", "color": "#3CC09A", "strokeDash": [7.5, 5]}, "encoding": {}}]},
 {"width": 219, "height": 180,
  "encoding": {"x": {"field": "year", "type": "quantitative", "scale": {"domain": [1928.55, 1939.38], "nice": false, "zero": false}, "axis": {"values": [1929, 1932, 1935, 1938], "labels": false, "ticks": false, "domain": false, "title": null}},
   "y": {"field": "value", "type": "quantitative", "scale": {"domain": [68.2, 132.9], "nice": false, "zero": false}, "axis": {"values": [75,80,85,90,95,100,105,110,115,120,125,130], "labels": false, "ticks": false, "domain": false, "title": null}}},
  "layer": [
   {"data": {"name": "US_Prices_1"}, "mark": {"type": "line", "color": "#22B5E6"}, "encoding": {}},
   {"data": {"name": "US_Prices_2"}, "mark": {"type": "line", "color": "#7D97D4", "strokeDash": [7.5, 5]}, "encoding": {}}]},
 {"width": 219, "height": 180, "resolve": {"axis": {"y": "independent"}},
  "encoding": {"x": {"field": "year", "type": "quantitative", "scale": {"domain": [1928.55, 1939.38], "nice": false, "zero": false}, "axis": {"values": [1929, 1932, 1935, 1938], "labels": false, "ticks": false, "domain": false, "title": null}},
   "y": {"field": "value", "type": "quantitative", "scale": {"domain": [68.2, 132.9], "nice": false, "zero": false}, "axis": {"values": [75,80,85,90,95,100,105,110,115,120,125,130], "labels": false, "ticks": false, "domain": false, "title": null}}},
  "layer": [
   {"data": {"name": "UK_Prices_1"}, "mark": {"type": "line", "color": "#C082BE"}, "encoding": {}},
   {"data": {"name": "UK_Prices_2"}, "mark": {"type": "line", "color": "#F06DA0", "strokeDash": [7.5, 5]},
    "encoding": {"y": {"field": "value", "type": "quantitative", "scale": {"domain": [68.2, 132.9], "nice": false, "zero": false}, "axis": {"orient": "right", "domain": true, "domainColor": "#d9d9d9", "domainWidth": 24, "offset": 11.1, "ticks": false, "labels": false, "grid": false, "title": "Prices", "titleAngle": 90, "titleFontSize": 20, "titleFontWeight": "normal", "titleColor": "#1a1a1a", "titlePadding": 0, "titleBaseline": "middle", "minExtent": 0, "maxExtent": 0}}}}]},

 {"width": 219, "height": 180,
  "encoding": {"x": {"field": "year", "type": "quantitative", "scale": {"domain": [1928.55, 1939.38], "nice": false, "zero": false}, "axis": {"values": [1929, 1932, 1935, 1938], "labels": false, "ticks": false, "domain": false, "title": null}},
   "y": {"field": "value", "type": "quantitative", "scale": {"domain": [-11.8, 2.0], "nice": false, "zero": false}, "axis": {"values": [-11,-10,-9,-8,-7,-6,-5,-4,-3,-2,-1,0,1], "format": "d", "labelExpr": "datum.value % 2 === 0 ? datum.label : ''", "tickOpacity": {"condition": {"test": "datum.value % 2 === 0", "value": 1}, "value": 0}, "domain": false, "title": null, "tickSize": 8, "offset": 2.7, "labelPadding": 14.6, "minExtent": 70, "maxExtent": 70, "labelOverlap": false}}},
  "layer": [
   {"data": {"name": "France_Deficits_1"}, "mark": {"type": "line", "color": "#F0951F"}, "encoding": {}},
   {"data": {"name": "France_Deficits_2"}, "mark": {"type": "line", "color": "#B5BB2F", "strokeDash": [7.5, 5]}, "encoding": {}}]},
 {"width": 219, "height": 180,
  "encoding": {"x": {"field": "year", "type": "quantitative", "scale": {"domain": [1928.55, 1939.38], "nice": false, "zero": false}, "axis": {"values": [1929, 1932, 1935, 1938], "labels": false, "ticks": false, "domain": false, "title": null}},
   "y": {"field": "value", "type": "quantitative", "scale": {"domain": [-11.8, 2.0], "nice": false, "zero": false}, "axis": {"values": [-11,-10,-9,-8,-7,-6,-5,-4,-3,-2,-1,0,1], "labels": false, "ticks": false, "domain": false, "title": null}}},
  "layer": [
   {"data": {"name": "Germany_Deficits_1"}, "mark": {"type": "line", "color": "#43B23F"}, "encoding": {}},
   {"data": {"name": "Germany_Deficits_2"}, "mark": {"type": "line", "color": "#3EC0B0", "strokeDash": [7.5, 5]}, "encoding": {}}]},
 {"width": 219, "height": 180,
  "encoding": {"x": {"field": "year", "type": "quantitative", "scale": {"domain": [1928.55, 1939.38], "nice": false, "zero": false}, "axis": {"values": [1929, 1932, 1935, 1938], "labels": false, "ticks": false, "domain": false, "title": null}},
   "y": {"field": "value", "type": "quantitative", "scale": {"domain": [-11.8, 2.0], "nice": false, "zero": false}, "axis": {"values": [-11,-10,-9,-8,-7,-6,-5,-4,-3,-2,-1,0,1], "labels": false, "ticks": false, "domain": false, "title": null}}},
  "layer": [
   {"data": {"name": "US_Deficits_1"}, "mark": {"type": "line", "color": "#2AB0E6"}, "encoding": {}},
   {"data": {"name": "US_Deficits_2"}, "mark": {"type": "line", "color": "#8F92D2", "strokeDash": [7.5, 5]}, "encoding": {}}]},
 {"width": 219, "height": 180, "resolve": {"axis": {"y": "independent"}},
  "encoding": {"x": {"field": "year", "type": "quantitative", "scale": {"domain": [1928.55, 1939.38], "nice": false, "zero": false}, "axis": {"values": [1929, 1932, 1935, 1938], "labels": false, "ticks": false, "domain": false, "title": null}},
   "y": {"field": "value", "type": "quantitative", "scale": {"domain": [-11.8, 2.0], "nice": false, "zero": false}, "axis": {"values": [-11,-10,-9,-8,-7,-6,-5,-4,-3,-2,-1,0,1], "labels": false, "ticks": false, "domain": false, "title": null}}},
  "layer": [
   {"data": {"name": "UK_Deficits_1"}, "mark": {"type": "line", "color": "#CC7BB7"}, "encoding": {}},
   {"data": {"name": "UK_Deficits_2"}, "mark": {"type": "line", "color": "#F46E92", "strokeDash": [7.5, 5]},
    "encoding": {"y": {"field": "value", "type": "quantitative", "scale": {"domain": [-11.8, 2.0], "nice": false, "zero": false}, "axis": {"orient": "right", "domain": true, "domainColor": "#d9d9d9", "domainWidth": 24, "offset": 11.1, "ticks": false, "labels": false, "grid": false, "title": "Deficits", "titleAngle": 90, "titleFontSize": 20, "titleFontWeight": "normal", "titleColor": "#1a1a1a", "titlePadding": 0, "titleBaseline": "middle", "minExtent": 0, "maxExtent": 0}}}}]},

 {"width": 219, "height": 180,
  "encoding": {"x": {"field": "year", "type": "quantitative", "scale": {"domain": [1928.55, 1939.38], "nice": false, "zero": false}, "axis": {"values": [1929, 1932, 1935, 1938], "format": "d", "domain": false, "title": null, "tickSize": 7.3, "offset": 2.7, "labelPadding": 13, "labelFlush": false, "labelOverlap": false}},
   "y": {"field": "value", "type": "quantitative", "scale": {"domain": [-0.2, 7.4], "nice": false, "zero": false}, "axis": {"values": [0.5,1,1.5,2,2.5,3,3.5,4,4.5,5,5.5,6,6.5,7], "labelExpr": "datum.value % 1 === 0 ? format(datum.value, 'd') : ''", "tickOpacity": {"condition": {"test": "datum.value % 1 === 0", "value": 1}, "value": 0}, "domain": false, "title": null, "tickSize": 8, "offset": 2.7, "labelPadding": 14.6, "minExtent": 70, "maxExtent": 70, "labelOverlap": false}}},
  "layer": [
   {"data": {"name": "France_Interest_1"}, "mark": {"type": "line", "color": "#EE9B20"}, "encoding": {}},
   {"data": {"name": "France_Interest_2"}, "mark": {"type": "line", "color": "#A5BF33", "strokeDash": [7.5, 5]}, "encoding": {}}]},
 {"width": 219, "height": 180,
  "encoding": {"x": {"field": "year", "type": "quantitative", "scale": {"domain": [1928.55, 1939.38], "nice": false, "zero": false}, "axis": {"values": [1929, 1932, 1935, 1938], "format": "d", "domain": false, "title": null, "tickSize": 7.3, "offset": 2.7, "labelPadding": 13, "labelFlush": false, "labelOverlap": false}},
   "y": {"field": "value", "type": "quantitative", "scale": {"domain": [-0.2, 7.4], "nice": false, "zero": false}, "axis": {"values": [0.5,1,1.5,2,2.5,3,3.5,4,4.5,5,5.5,6,6.5,7], "labels": false, "ticks": false, "domain": false, "title": null}}},
  "layer": [
   {"data": {"name": "Germany_Interest_1"}, "mark": {"type": "line", "color": "#3EB349"}, "encoding": {}},
   {"data": {"name": "Germany_Interest_2"}, "mark": {"type": "line", "color": "#3BC1C2", "strokeDash": [7.5, 5]}, "encoding": {}}]},
 {"width": 219, "height": 180,
  "encoding": {"x": {"field": "year", "type": "quantitative", "scale": {"domain": [1928.55, 1939.38], "nice": false, "zero": false}, "axis": {"values": [1929, 1932, 1935, 1938], "format": "d", "domain": false, "title": null, "tickSize": 7.3, "offset": 2.7, "labelPadding": 13, "labelFlush": false, "labelOverlap": false}},
   "y": {"field": "value", "type": "quantitative", "scale": {"domain": [-0.2, 7.4], "nice": false, "zero": false}, "axis": {"values": [0.5,1,1.5,2,2.5,3,3.5,4,4.5,5,5.5,6,6.5,7], "labels": false, "ticks": false, "domain": false, "title": null}}},
  "layer": [
   {"data": {"name": "US_Interest_1"}, "mark": {"type": "line", "color": "#3EAAE6"}, "encoding": {}},
   {"data": {"name": "US_Interest_2"}, "mark": {"type": "line", "color": "#9F8CD2", "strokeDash": [7.5, 5]}, "encoding": {}}]},
 {"width": 219, "height": 180, "resolve": {"axis": {"y": "independent"}},
  "encoding": {"x": {"field": "year", "type": "quantitative", "scale": {"domain": [1928.55, 1939.38], "nice": false, "zero": false}, "axis": {"values": [1929, 1932, 1935, 1938], "format": "d", "domain": false, "title": null, "tickSize": 7.3, "offset": 2.7, "labelPadding": 13, "labelFlush": false, "labelOverlap": false}},
   "y": {"field": "value", "type": "quantitative", "scale": {"domain": [-0.2, 7.4], "nice": false, "zero": false}, "axis": {"values": [0.5,1,1.5,2,2.5,3,3.5,4,4.5,5,5.5,6,6.5,7], "labels": false, "ticks": false, "domain": false, "title": null}}},
  "layer": [
   {"data": {"name": "UK_Interest_1"}, "mark": {"type": "line", "color": "#D870B4"}, "encoding": {}},
   {"data": {"name": "UK_Interest_2"}, "mark": {"type": "line", "color": "#F47882", "strokeDash": [7.5, 5]},
    "encoding": {"y": {"field": "value", "type": "quantitative", "scale": {"domain": [-0.2, 7.4], "nice": false, "zero": false}, "axis": {"orient": "right", "domain": true, "domainColor": "#d9d9d9", "domainWidth": 24, "offset": 11.1, "ticks": false, "labels": false, "grid": false, "title": "Interest rates", "titleAngle": 90, "titleFontSize": 20, "titleFontWeight": "normal", "titleColor": "#1a1a1a", "titlePadding": 0, "titleBaseline": "middle", "minExtent": 0, "maxExtent": 0}}}}]}
]
}
